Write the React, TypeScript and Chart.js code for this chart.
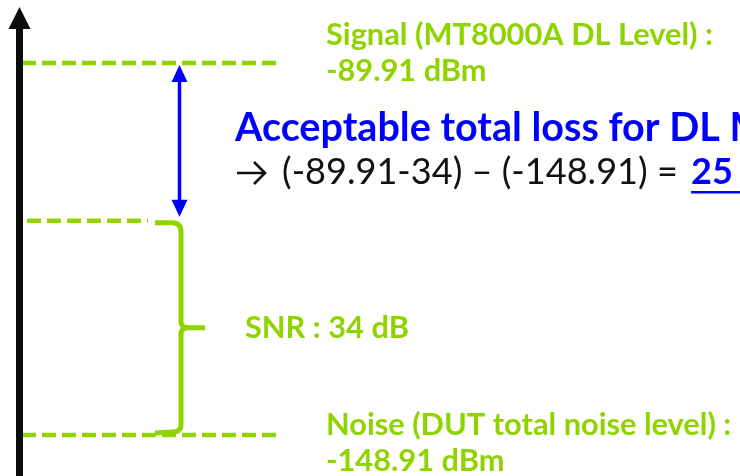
import { useEffect, useRef } from 'react';
import { Chart, registerables } from 'chart.js';

Chart.register(...registerables);

// ---- data ----
const signalDbm = -89.91;
const noiseDbm = -148.91;
const snrDb = 34;
const requiredDbm = noiseDbm + snrDb; // signal level needed at the DUT
const acceptableLossDb = Math.round((signalDbm - requiredDbm) * 100) / 100;

const levelNames = ['Signal (MT8000A DL Level) :', 'Noise (DUT total noise level) :'];
const levelValues = [signalDbm, noiseDbm];
const snrText = `SNR : ${snrDb} dB`;
const lossTitle = 'Acceptable total loss for DL MIMO';
const lossFormula = `(${signalDbm}-${snrDb}) \u2013 (${noiseDbm}) = `;
const lossResult = `${acceptableLossDb} dB`;

// ---- styles / layout ----
const GREEN = '#8fd400';
const BLUE = '#0000ff';
const FONT = "Lato, 'Open Sans', sans-serif";
const Y_MIN = -155.41;
const Y_MAX = -79.92;
const LINE_START = 22;
const LINE_END = 278;
const MID_START = 27;
const MID_END = 148;
const BRACE_X = 181;

function fitSize(ctx: CanvasRenderingContext2D, text: string, weight: string, target: number) {
  ctx.font = `${weight} 100px ${FONT}`;
  const w = ctx.measureText(text).width;
  return (100 * target) / w;
}

const diagramPlugin = {
  id: 'diagram',
  afterDatasetsDraw(chart: any) {
    const { ctx, scales } = chart;
    const xs = scales.x;
    const ys = scales.y;
    const X = (v: number) => xs.getPixelForValue(v);
    const ySig = ys.getPixelForValue(signalDbm);
    const yReq = ys.getPixelForValue(requiredDbm);
    const yNoise = ys.getPixelForValue(noiseDbm);
    ctx.save();

    // vertical axis with arrow head
    const ax = X(19.5);
    ctx.strokeStyle = '#0d0d0d';
    ctx.fillStyle = '#0d0d0d';
    ctx.lineWidth = 7;
    ctx.beginPath();
    ctx.moveTo(ax, chart.height);
    ctx.lineTo(ax, 27);
    ctx.stroke();
    ctx.beginPath();
    ctx.moveTo(ax, 7);
    ctx.lineTo(ax + 11, 29);
    ctx.lineTo(ax - 11, 29);
    ctx.closePath();
    ctx.fill();

    // brace (SNR)
    const bx = X(BRACE_X);
    const mid = (yReq + yNoise) / 2;
    ctx.strokeStyle = GREEN;
    ctx.lineWidth = 5;
    ctx.lineCap = 'butt';
    ctx.lineJoin = 'round';
    ctx.beginPath();
    ctx.moveTo(X(155), yReq + 2);
    ctx.lineTo(bx - 9, yReq + 2);
    ctx.quadraticCurveTo(bx, yReq + 2, bx, yReq + 11);
    ctx.lineTo(bx, mid - 6);
    ctx.quadraticCurveTo(bx, mid, bx + 7, mid);
    ctx.lineTo(X(205), mid);
    ctx.moveTo(bx + 7, mid);
    ctx.quadraticCurveTo(bx, mid, bx, mid + 6);
    ctx.lineTo(bx, yNoise - 10);
    ctx.quadraticCurveTo(bx, yNoise - 3, bx - 9, yNoise - 3);
    ctx.lineTo(X(155), yNoise - 2);
    ctx.stroke();

    // blue double arrow (acceptable loss)
    const arx = X(179.5);
    ctx.strokeStyle = BLUE;
    ctx.fillStyle = BLUE;
    ctx.lineWidth = 3.5;
    ctx.beginPath();
    ctx.moveTo(arx, ySig + 14);
    ctx.lineTo(arx, yReq - 18);
    ctx.stroke();
    ctx.beginPath();
    ctx.moveTo(arx, ySig + 2);
    ctx.lineTo(arx + 8, ySig + 19);
    ctx.lineTo(arx - 8, ySig + 19);
    ctx.closePath();
    ctx.fill();
    ctx.beginPath();
    ctx.moveTo(arx, yReq - 4);
    ctx.lineTo(arx + 8, yReq - 21);
    ctx.lineTo(arx - 8, yReq - 21);
    ctx.closePath();
    ctx.fill();

    // green labels
    ctx.textBaseline = 'alphabetic';
    ctx.textAlign = 'left';
    const gSize = fitSize(ctx, levelNames[0], 'bold', 387);
    ctx.font = `bold ${gSize}px ${FONT}`;
    ctx.fillStyle = GREEN;
    const labelX = X(326);
    ctx.fillText(levelNames[0], labelX, ySig - 18);
    ctx.fillText(`${levelValues[0]} dBm`, labelX, ySig + 18);
    ctx.fillText(levelNames[1], labelX, yNoise);
    ctx.fillText(`${levelValues[1]} dBm`, labelX, yNoise + 36);
    ctx.fillText(snrText, X(245), mid + 10);

    // blue title
    const tSize = fitSize(ctx, 'Acceptable total loss for DL', 'bold', 485);
    ctx.font = `bold ${tSize}px ${FONT}`;
    ctx.fillStyle = BLUE;
    ctx.fillText(lossTitle, X(235), 141);

    // arrow glyph of the formula
    ctx.strokeStyle = '#111111';
    ctx.lineWidth = 2.6;
    ctx.lineCap = 'butt';
    ctx.lineJoin = 'miter';
    ctx.beginPath();
    ctx.moveTo(X(237), 173);
    ctx.lineTo(X(265), 173);
    ctx.moveTo(X(254), 162);
    ctx.lineTo(X(265), 173);
    ctx.lineTo(X(254), 184);
    ctx.stroke();

    // formula
    const fSize = fitSize(ctx, lossFormula.trimEnd(), 'normal', 396);
    ctx.font = `normal ${fSize}px ${FONT}`;
    ctx.fillStyle = '#111111';
    ctx.fillText(lossFormula, X(282), 184);
    const fw = ctx.measureText(lossFormula).width;
    ctx.font = `bold ${fSize}px ${FONT}`;
    ctx.fillStyle = BLUE;
    const rx = X(282) + fw + 4;
    ctx.fillText(lossResult, rx, 184);
    const rw = ctx.measureText(lossResult).width;
    ctx.fillRect(rx, 191, rw, 2.5);

    ctx.restore();
  },
};

export default function App() {
  const ref = useRef<HTMLCanvasElement | null>(null);
  useEffect(() => {
    document.body.style.margin = '0';
    const canvas = ref.current;
    if (!canvas) return;
    const dashed = (x0: number, x1: number, y: number) => ({
      data: [
        { x: x0, y },
        { x: x1, y },
      ],
      borderColor: GREEN,
      borderWidth: 4.5,
      borderDash: [14, 6],
      borderCapStyle: 'butt' as const,
      pointRadius: 0,
      fill: false,
    });
    const chart = new Chart(canvas, {
      type: 'line',
      data: {
        datasets: [
          dashed(LINE_START, LINE_END, signalDbm),
          dashed(MID_START, MID_END, requiredDbm),
          dashed(LINE_START, LINE_END, noiseDbm),
        ],
      },
      options: {
        responsive: false,
        animation: false,
        devicePixelRatio: 1,
        layout: { padding: 0 },
        plugins: { legend: { display: false }, tooltip: { enabled: false }, title: { display: false } },
        scales: {
          x: { type: 'linear', min: 0, max: 740, display: false },
          y: { type: 'linear', min: Y_MIN, max: Y_MAX, display: false },
        },
      },
      plugins: [diagramPlugin],
    });
    return () => chart.destroy();
  }, []);
  return (
    <div style={{ width: 740, height: 476, background: '#ffffff' }}>
      <canvas ref={ref} width={740} height={476} style={{ display: 'block' }} />
    </div>
  );
}
